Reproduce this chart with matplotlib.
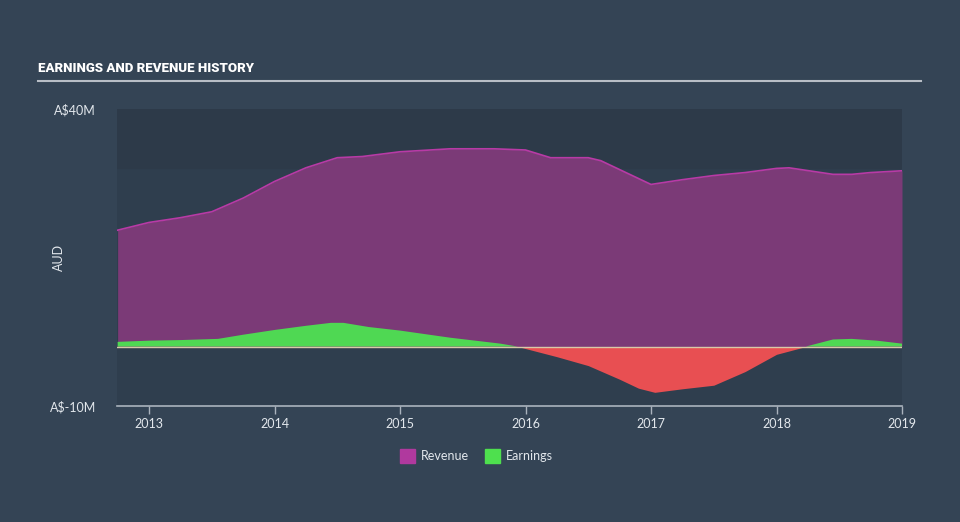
import matplotlib
matplotlib.use('Agg')
import matplotlib.pyplot as plt
import numpy as np

# data (A$ millions), x in fractional years
rev_t = [2012.75, 2013.0, 2013.25, 2013.5, 2013.75, 2014.0, 2014.25, 2014.5, 2014.7,
         2015.0, 2015.4, 2015.75, 2016.0, 2016.2, 2016.5, 2016.6, 2016.8, 2017.0,
         2017.25, 2017.5, 2017.75, 2018.0, 2018.1, 2018.45, 2018.6, 2018.75, 2019.0]
rev_v = [19.6, 20.9, 21.7, 22.7, 25.0, 27.8, 30.1, 31.8, 32.0,
         32.8, 33.3, 33.3, 33.1, 31.8, 31.8, 31.3, 29.3, 27.3,
         28.1, 28.8, 29.3, 30.0, 30.1, 29.0, 29.0, 29.3, 29.6]

earn_t = [2012.75, 2013.0, 2013.25, 2013.55, 2013.75, 2014.0, 2014.25, 2014.45, 2014.55,
          2014.75, 2015.0, 2015.4, 2015.8, 2015.94, 2016.25, 2016.5, 2016.75, 2016.9,
          2017.03, 2017.25, 2017.5, 2017.75, 2018.0, 2018.25, 2018.45, 2018.6, 2018.8, 2019.0]
earn_v = [0.8, 1.0, 1.1, 1.3, 2.0, 2.8, 3.5, 4.0, 4.0,
          3.3, 2.7, 1.5, 0.5, 0.0, -1.7, -3.2, -5.5, -7.0,
          -7.7, -7.1, -6.5, -4.2, -1.3, 0.1, 1.2, 1.3, 1.0, 0.5]

plt.rcParams['font.family'] = ['Lato', 'DejaVu Sans']

bg = '#344455'
txt = '#e2e7ec'
fig = plt.figure(figsize=(9.6, 5.22), dpi=100, facecolor=bg)
ax = fig.add_axes([117 / 960, 116 / 522, 785 / 960, 297 / 522])
ax.set_facecolor('#2f3e4e')
ax.axhspan(30, 40, color='#2d3a49', zorder=0)

rt = np.array(rev_t)
rv = np.array(rev_v)
ax.fill_between(rt, 0, rv, color='#7b3a77', lw=0, zorder=1)
ax.plot(rt, rv, color='#b83aa6', lw=1.2, zorder=3)

et = np.array(earn_t)
ev = np.array(earn_v)
ax.fill_between(et, 0, ev, where=ev >= 0, interpolate=True, color='#4fd853', lw=0, zorder=2)
ax.fill_between(et, 0, ev, where=ev <= 0, interpolate=True, color='#e84f52', lw=0, zorder=2)
ax.axhline(0, color='#d9c9a8', lw=1, zorder=2.5)

ax.set_xlim(2012.745, 2019.0)
ax.set_ylim(-10, 40)
for s in ['top', 'right', 'left']:
    ax.spines[s].set_visible(False)
ax.spines['bottom'].set_color('#aab3bd')
ax.spines['bottom'].set_linewidth(1.2)

ax.set_xticks([2013, 2014, 2015, 2016, 2017, 2018, 2019])
ax.set_xticklabels(['2013', '2014', '2015', '2016', '2017', '2018', '2019'])
ax.tick_params(axis='x', colors='#aab3bd', labelcolor=txt, length=6, width=1, labelsize=9, pad=3)
ax.set_yticks([-10, 40])
ax.set_yticklabels(['A$-10M', 'A$40M'])
ax.tick_params(axis='y', length=0, labelcolor=txt, labelsize=9, pad=15)
ax.set_ylabel('AUD', color=txt, fontsize=9)
ax.yaxis.set_label_coords(-0.066, 0.5)

# title and rule
fig.text(38 / 960, 1 - 68 / 522, 'EARNINGS AND REVENUE HISTORY', color='white', fontsize=9.5,
         fontweight='heavy', family=['Roboto', 'DejaVu Sans'], va='center', ha='left')
fig.add_artist(plt.Line2D([38 / 960, 921 / 960], [1 - 81 / 522, 1 - 81 / 522], color='#b8bec6', lw=1.5))

# legend
lx, ly = 400 / 960, 1 - 456 / 522
fig.patches.append(plt.Rectangle((lx, ly - 0.013), 15 / 960, 0.026, color='#b0399e', transform=fig.transFigure))
fig.text(lx + 21 / 960, ly, 'Revenue', color=txt, fontsize=9, va='center')
ex = 485 / 960
fig.patches.append(plt.Rectangle((ex, ly - 0.013), 15 / 960, 0.026, color='#4ee04e', transform=fig.transFigure))
fig.text(ex + 21 / 960, ly, 'Earnings', color=txt, fontsize=9, va='center')

plt.savefig('out.png', dpi=100, facecolor=bg)
